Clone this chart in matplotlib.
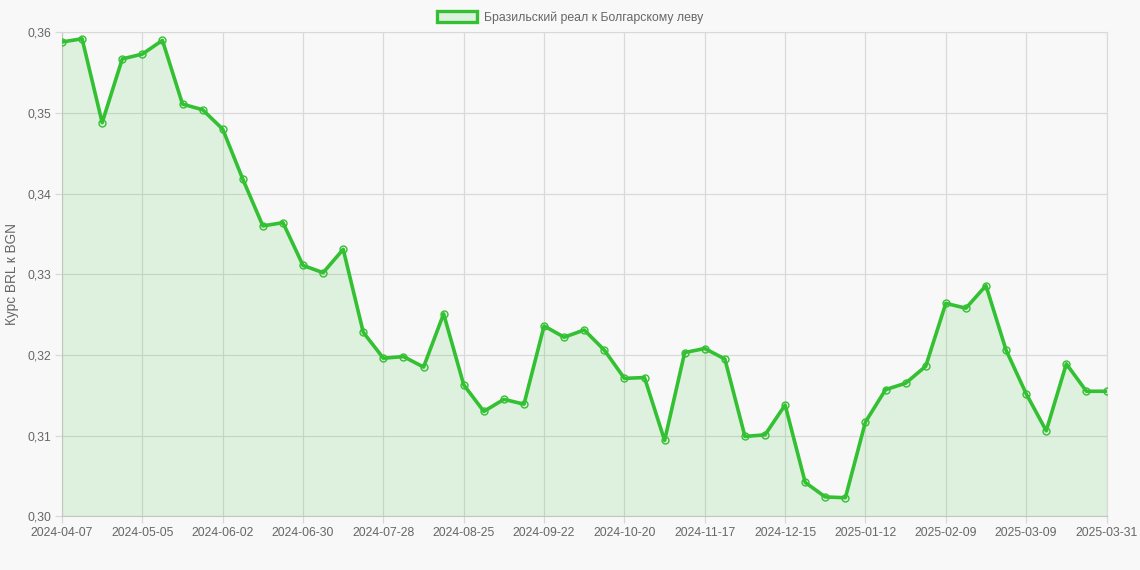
import matplotlib
matplotlib.use("Agg")
import matplotlib.pyplot as plt
from matplotlib.patches import Patch
from matplotlib.ticker import FuncFormatter, MultipleLocator
import pandas as pd

# weekly dates, last point is 2025-03-31
dates = [d.strftime("%Y-%m-%d") for d in pd.date_range("2024-04-07", periods=52, freq="7D")]
dates.append("2025-03-31")

rates = [
    0.3588, 0.3592, 0.3488, 0.3567, 0.3573, 0.3590, 0.3511, 0.3504, 0.3480, 0.3418,
    0.3360, 0.3364, 0.3311, 0.3302, 0.3331, 0.3228, 0.3196, 0.3198, 0.3185, 0.3251,
    0.3163, 0.3130, 0.3145, 0.3139, 0.3236, 0.3222, 0.3231, 0.3206, 0.3171, 0.3172,
    0.3094, 0.3203, 0.3208, 0.3195, 0.3099, 0.3101, 0.3138, 0.3042, 0.3024, 0.3023,
    0.3117, 0.3157, 0.3165, 0.3186, 0.3264, 0.3258, 0.3286, 0.3206, 0.3152, 0.3106,
    0.3189, 0.3155, 0.3155,
]

series_label = "Бразильский реал к Болгарскому леву"
y_label = "Курс BRL к BGN"

green = "#33c133"
fill = (0.2, 0.76, 0.2, 0.13)
text_col = "#666666"
grid_col = "#d9d9d9"
bg = "#f8f8f8"

plt.rcParams["font.family"] = ["Liberation Sans", "DejaVu Sans"]

fig = plt.figure(figsize=(11.4, 5.7), dpi=100, facecolor=bg)
ax = fig.add_axes([62 / 1140, 1 - 516.3 / 570, (1106.5 - 62) / 1140, (516.3 - 32.3) / 570])
ax.set_facecolor(bg)
ax.set_axisbelow(True)

x = list(range(len(rates)))
ax.fill_between(x, 0.30, rates, color=fill, lw=0, zorder=2)
ax.plot(x, rates, color=green, lw=2.6, zorder=3)
ax.plot(x, rates, ls="none", marker="o", ms=5, mfc="none", mec=green, mew=1, zorder=4)

ax.set_xlim(0, len(rates) - 1)
ax.set_ylim(0.30, 0.36)
ax.yaxis.set_major_locator(MultipleLocator(0.01))
ax.yaxis.set_major_formatter(FuncFormatter(lambda v, p: f"{v:.2f}".replace(".", ",")))

tick_idx = list(range(0, len(rates), 4))
if tick_idx[-1] != len(rates) - 1:
    tick_idx.append(len(rates) - 1)
ax.set_xticks(tick_idx)
ax.set_xticklabels([dates[i] for i in tick_idx])

ax.grid(True, color=grid_col, lw=0.9)
for s in ax.spines.values():
    s.set_color(grid_col)
ax.spines["left"].set_color("#c4c4c4")
ax.spines["bottom"].set_color("#c4c4c4")
ax.tick_params(colors=grid_col, labelcolor=text_col, labelsize=8.8, length=5, width=0.9, pad=3)

ax.set_ylabel(y_label, color=text_col, fontsize=9.8, labelpad=6)

handle = Patch(facecolor=fill, edgecolor=green, lw=2.4)
fig.legend([handle], [series_label], loc="upper center", bbox_to_anchor=(0.5, 1.0),
           frameon=False, fontsize=8.8, labelcolor=text_col, handlelength=3.3,
           handleheight=1.0, handletextpad=0.5, borderaxespad=0.5)

fig.savefig("out.png", dpi=100, facecolor=bg)
